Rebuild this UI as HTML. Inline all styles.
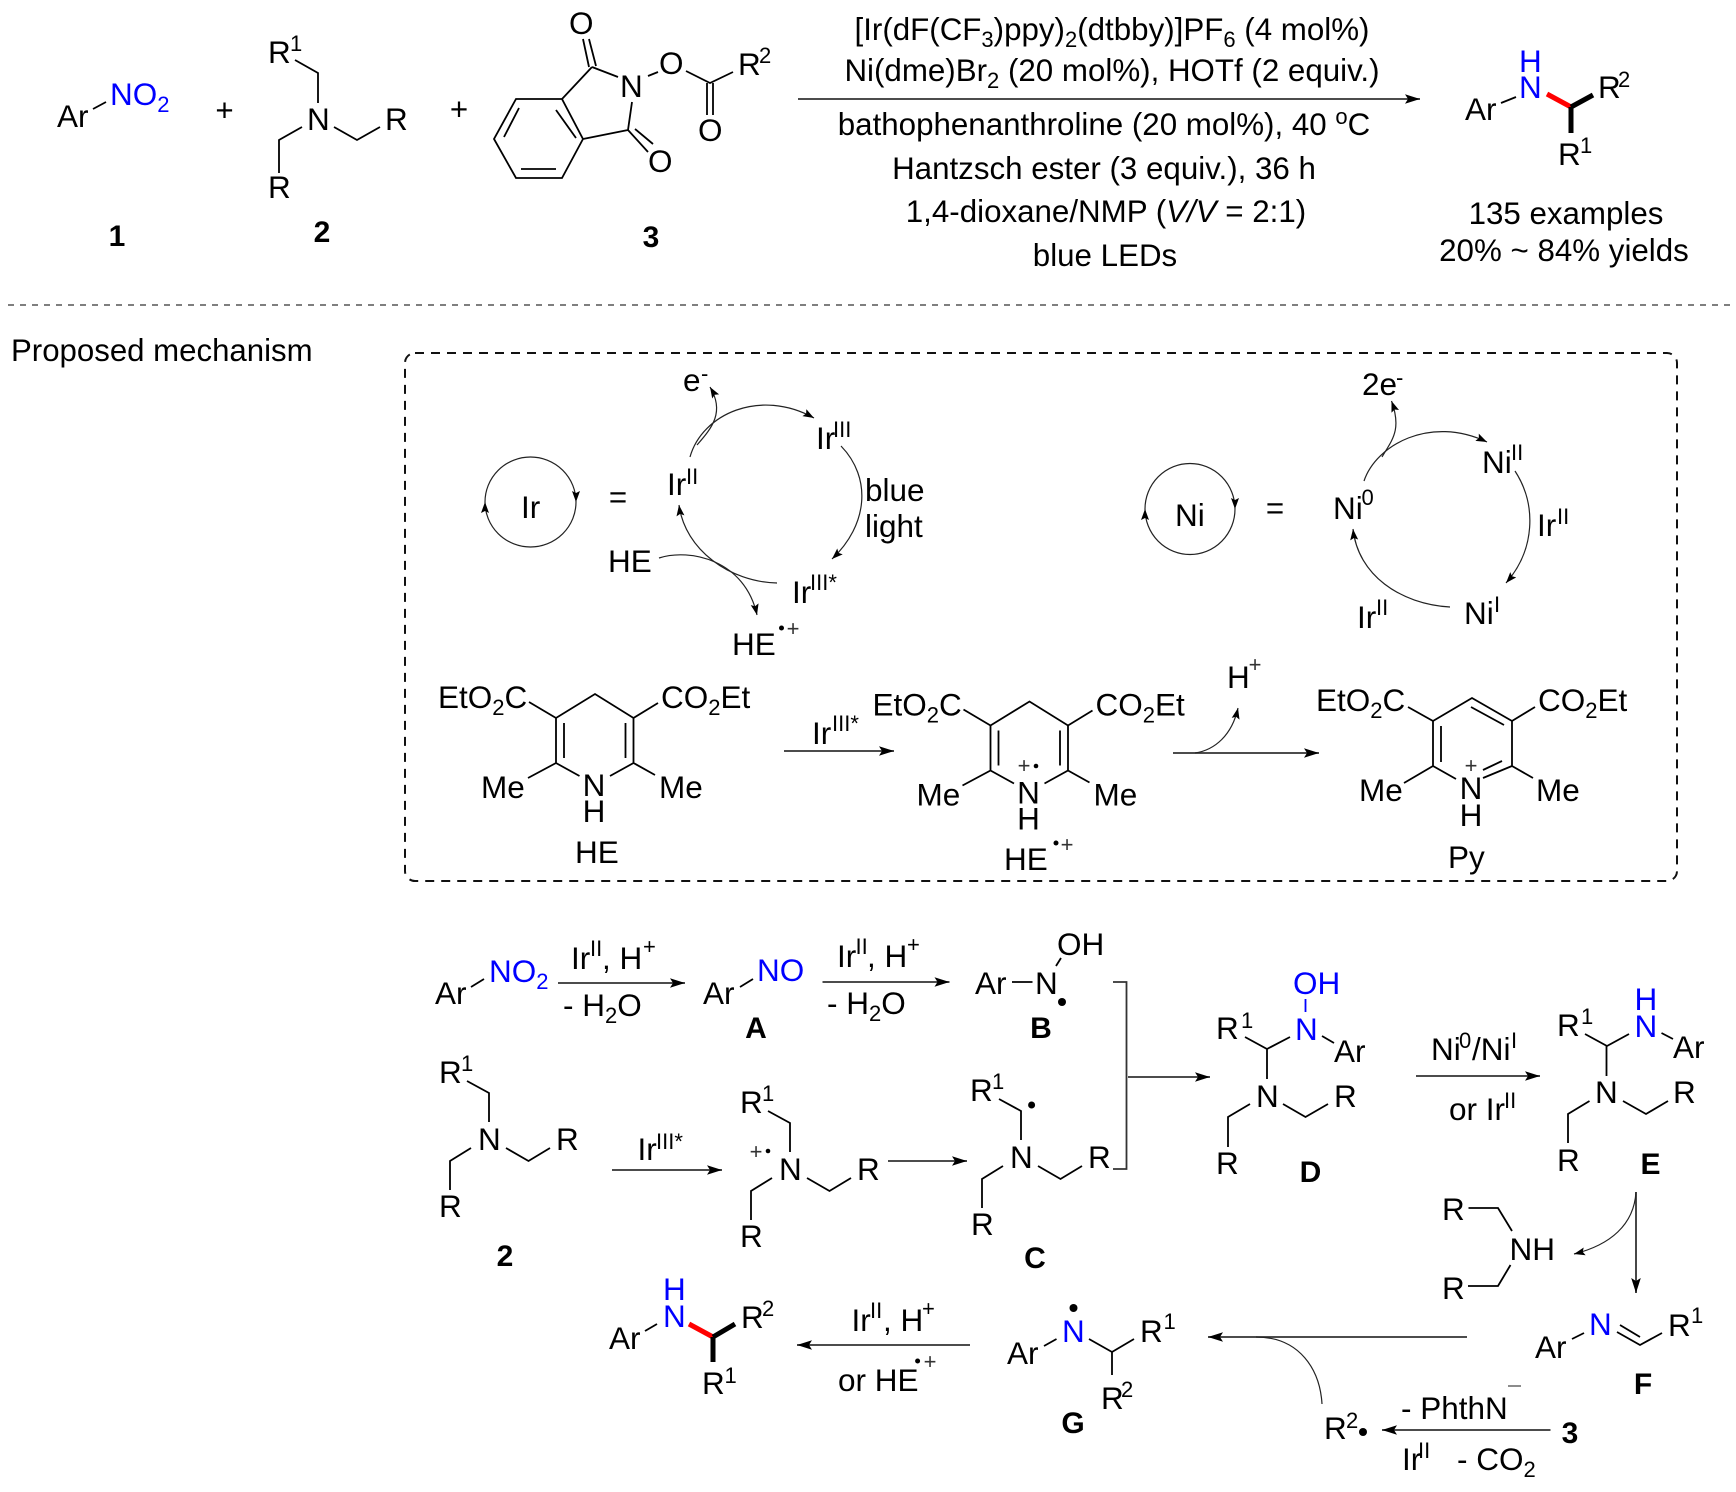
<!DOCTYPE html>
<html><head><meta charset="utf-8"><style>
html,body{margin:0;padding:0;background:#fff}
svg{display:block}
text{font-family:"Liberation Sans",Arial,sans-serif;font-size:31.5px;fill:#000}
text:not(.c):not(.b):not(.m):not(.p){transform:translate(-1px,0.8px)}
.s{font-size:22px}
.c{font-size:31.3px;text-anchor:middle}
.c .s{font-size:22px}
.b{font-size:30px;font-weight:bold;text-anchor:middle}
.u{fill:#0000ff}
.m{text-anchor:middle}
.p{font-size:22px;text-anchor:middle;fill:#333}
.l{fill:none;stroke:#000;stroke-width:1.8}
.a{fill:none;stroke:#333;stroke-width:1.8}
.k{fill:none;stroke:#222;stroke-width:1.2}
</style></head><body>
<svg width="1736" height="1492" viewBox="0 0 1736 1492" xmlns="http://www.w3.org/2000/svg">
<defs>
<marker id="h" markerUnits="userSpaceOnUse" markerWidth="16" markerHeight="12" refX="15" refY="6" orient="auto"><path d="M0 1.2L15 6L0 10.8L3 6Z" fill="#000"/></marker>
<marker id="g" markerUnits="userSpaceOnUse" markerWidth="12" markerHeight="10" refX="11" refY="5" orient="auto"><path d="M0 1L11 5L0 9L2 5Z" fill="#000"/></marker>
</defs>
<rect width="1736" height="1492" fill="#fff"/>

<!-- top: reactants -->
<text x="58" y="126">Ar</text><path class="l" d="M93 109L106 102"/>
<text x="111" y="104" class="u">NO<tspan dy="7" class="s u">2</tspan></text>
<text x="224.5" y="121" class="c">+</text>
<text x="117" y="246" class="b">1</text>

<text x="269" y="62">R</text><text x="291" y="50" class="s">1</text>
<path class="l" d="M295 60L318 73V103M302 127L279 140V173M334 127L357 140L380 127"/>
<text x="308" y="129">N</text><text x="386" y="129">R</text><text x="269" y="197">R</text>
<text x="322" y="242" class="b">2</text>
<text x="459" y="120" class="c">+</text>

<text x="570" y="33">O</text>
<path class="l" d="M583 39L589 67M589 39L596 66M592 67L618 77M592 67L562 99L583 139L628 130M632 102L628 130M628 130L648 152M635 129L653 144M562 99H516L494 139L516 178H562L583 139M556 110L576 138M519 108L504 137M521 169H556M648 76L658 72M686 71L710 83L733 72M707 83V115M713 83V115"/>
<text x="621" y="96">N</text><text x="660" y="73">O</text><text x="649" y="171">O</text>
<text x="739" y="74">R</text><text x="760" y="62" class="s">2</text><text x="699" y="140">O</text>
<text x="651" y="247" class="b">3</text>

<!-- conditions -->
<path class="a" d="M798 99H1420" marker-end="url(#h)"/>
<text x="1112" y="40" class="c">[Ir(dF(CF<tspan dy="7" class="s">3</tspan><tspan dy="-7">)ppy)</tspan><tspan dy="7" class="s">2</tspan><tspan dy="-7">(dtbby)]PF</tspan><tspan dy="7" class="s">6</tspan><tspan dy="-7"> (4 mol%)</tspan></text>
<text x="1112" y="81" class="c">Ni(dme)Br<tspan dy="7" class="s">2</tspan><tspan dy="-7"> (20 mol%), HOTf (2 equiv.)</tspan></text>
<text x="1104" y="135" class="c">bathophenanthroline (20 mol%), 40 <tspan dy="-11" class="s">o</tspan><tspan dy="11">C</tspan></text>
<text x="1104" y="179" class="c">Hantzsch ester (3 equiv.), 36 h</text>
<text x="1106" y="222" class="c">1,4-dioxane/NMP (<tspan font-style="italic">V/V</tspan> = 2:1)</text>
<text x="1105" y="266" class="c">blue LEDs</text>

<!-- product top -->
<text x="1466" y="119">Ar</text><path class="l" d="M1501 103L1516 97"/>
<text x="1520" y="71" class="u">H</text><text x="1520" y="97" class="u">N</text>
<path d="M1547 94L1571 107" stroke="#f00" stroke-width="5" fill="none"/>
<path d="M1571 107L1593 95M1571 107V133" stroke="#000" stroke-width="5" fill="none"/>
<text x="1599" y="97">R</text><text x="1619" y="86" class="s">2</text>
<text x="1559" y="164">R</text><text x="1581" y="152" class="s">1</text>
<text x="1566" y="224" class="c">135 examples</text>
<text x="1564" y="261" class="c">20% ~ 84% yields</text>

<path d="M8 305H1730" stroke="#555" stroke-width="1.5" stroke-dasharray="6 6" fill="none"/>
<text x="12" y="360" style="font-size:31.2px">Proposed mechanism</text>

<rect x="405" y="353" width="1272" height="528" rx="10" fill="none" stroke="#111" stroke-width="2" stroke-dasharray="9 7"/>

<!-- Ir cycle -->
<path class="k" d="M485 502A45.5 45 0 0 1 576 502" marker-end="url(#g)"/>
<path class="k" d="M576 502A45.5 45 0 0 1 485 502" marker-end="url(#g)"/>
<text x="522" y="517">Ir</text>
<text x="618" y="508" class="c">=</text>
<text x="684" y="390">e</text><text x="702" y="380" class="s">-</text>
<text x="668" y="494">Ir</text><text x="687" y="483" class="s">II</text>
<text x="817" y="448">Ir</text><text x="834" y="436" class="s">III</text>
<text x="793" y="602">Ir</text><text x="811" y="589" class="s">III*</text>
<text x="609" y="571">HE</text>
<text x="733" y="654">HE</text><circle cx="781.5" cy="628" r="2.5"/><text x="793" y="636" class="p">+</text>
<text x="866" y="500">blue</text><text x="866" y="536">light</text>
<path class="k" d="M690 457C702 414 760 388 814 418" marker-end="url(#g)"/>
<path class="k" d="M697 445C712 428 725 412 710 387" marker-end="url(#g)"/>
<path class="k" d="M841 446C872 478 868 525 832 559" marker-end="url(#g)"/>
<path class="k" d="M777 583C730 582 685 550 679 505" marker-end="url(#g)"/>
<path class="k" d="M659 558C690 548 745 560 757 615" marker-end="url(#g)"/>

<!-- Ni cycle -->
<path class="k" d="M1145 509A45 45.5 0 0 1 1235 509" marker-end="url(#g)"/>
<path class="k" d="M1235 509A45 45.5 0 0 1 1145 509" marker-end="url(#g)"/>
<text x="1176" y="525">Ni</text>
<text x="1275" y="519" class="c">=</text>
<text x="1363" y="394">2e</text><text x="1397" y="384" class="s">-</text>
<text x="1334" y="518">Ni</text><text x="1362.5" y="504" class="s">0</text>
<text x="1483" y="472">Ni</text><text x="1512" y="459" class="s">II</text>
<text x="1538" y="535">Ir</text><text x="1558" y="523" class="s">II</text>
<text x="1465" y="623">Ni</text><text x="1495" y="611" class="s">I</text>
<text x="1358" y="627">Ir</text><text x="1377" y="614" class="s">II</text>
<path class="k" d="M1364 481C1376 445 1430 415 1487 442" marker-end="url(#g)"/>
<path class="k" d="M1382 457C1392 440 1402 430 1391.5 401" marker-end="url(#g)"/>
<path class="k" d="M1515 471C1537 505 1535 550 1506 583" marker-end="url(#g)"/>
<path class="k" d="M1450 607C1400 604 1358 575 1353 529" marker-end="url(#g)"/>

<!-- HE -->
<text x="439" y="707">EtO<tspan dy="7" class="s">2</tspan><tspan dy="-7">C</tspan></text>
<text x="662" y="707">CO<tspan dy="7" class="s">2</tspan><tspan dy="-7">Et</tspan></text>
<path class="l" d="M529 702L556 718L595 694L633.5 718L658 703M556 718V763L579.5 776M633.5 718V763L610 776M564 723V758M625.5 723V758M556 763L528 778M633.5 763L655 775"/>
<text x="594" y="796" class="m">N</text><text x="594" y="822" class="m">H</text>
<text x="482" y="797">Me</text><text x="660" y="797">Me</text>
<text x="576" y="862">HE</text>
<path class="a" d="M784 751H894" marker-end="url(#h)"/>
<text x="813" y="743">Ir</text><text x="833" y="730" class="s">III*</text>

<!-- HE radical cation -->
<g transform="translate(434.5 7.5)">
<text x="439" y="707">EtO<tspan dy="7" class="s">2</tspan><tspan dy="-7">C</tspan></text>
<text x="662" y="707">CO<tspan dy="7" class="s">2</tspan><tspan dy="-7">Et</tspan></text>
<path class="l" d="M529 702L556 718L595 694L633.5 718L658 703M556 718V763L579.5 776M633.5 718V763L610 776M564 723V758M625.5 723V758M556 763L528 778M633.5 763L655 775"/>
<text x="594" y="796" class="m">N</text><text x="594" y="822" class="m">H</text>
<text x="483" y="797">Me</text><text x="660" y="797">Me</text>
</g>
<text x="1024" y="773" class="p">+</text><circle cx="1036" cy="766" r="2.3"/>
<text x="1005" y="869">HE</text><circle cx="1056" cy="843" r="2.5"/><text x="1067" y="852" class="p">+</text>

<text x="1228" y="687">H</text><text x="1255" y="672" class="p">+</text>
<path class="a" d="M1173 753H1319" marker-end="url(#h)"/>
<path class="k" d="M1195 753C1215 750 1232 735 1238 708" marker-end="url(#g)"/>

<!-- Py -->
<text x="1317" y="710">EtO<tspan dy="7" class="s">2</tspan><tspan dy="-7">C</tspan></text>
<text x="1539" y="710">CO<tspan dy="7" class="s">2</tspan><tspan dy="-7">Et</tspan></text>
<path class="l" d="M1408 707L1433 721L1472 698L1512 721L1535 707M1433 721V766L1456 779M1512 721V766L1483 778M1441 726V762M1471 707L1504 725M1483 770L1502 761M1433 766L1404 783M1512 766L1533 778"/>
<text x="1471" y="773" class="p">+</text>
<text x="1471" y="799" class="m">N</text><text x="1471" y="826" class="m">H</text>
<text x="1360" y="800">Me</text><text x="1537" y="800">Me</text>
<text x="1449" y="867">Py</text>

<!-- mechanism row 1 -->
<text x="436" y="1003">Ar</text><path class="l" d="M471 987L484 979"/>
<text x="490" y="981" class="u">NO<tspan dy="7" class="s u">2</tspan></text>
<path class="a" d="M558 983H685" marker-end="url(#h)"/>
<text x="572" y="968">Ir</text><text x="591" y="955" class="s">II</text><text x="603" y="968">, H</text><text x="644" y="953" class="s">+</text>
<text x="564" y="1015">- H<tspan dy="7" class="s">2</tspan><tspan dy="-7">O</tspan></text>
<text x="704" y="1003">Ar</text><path class="l" d="M740 987L753 979"/>
<text x="758" y="980" class="u">NO</text>
<text x="756" y="1038" class="b">A</text>
<path class="a" d="M822.5 982H949.5" marker-end="url(#h)"/>
<text x="838" y="966">Ir</text><text x="856.5" y="953" class="s">II</text><text x="868" y="966">, H</text><text x="908" y="951" class="s">+</text>
<text x="828" y="1013">- H<tspan dy="7" class="s">2</tspan><tspan dy="-7">O</tspan></text>
<text x="976" y="993">Ar</text><path class="l" d="M1012 982H1032.5M1061 958L1056 966"/>
<text x="1036" y="993">N</text><text x="1058" y="954">OH</text>
<circle cx="1062" cy="1002" r="4"/>
<text x="1041" y="1038" class="b">B</text>
<path class="a" d="M1113 982H1126.5V1169H1113"/>
<path class="a" d="M1128 1077H1210" marker-end="url(#h)"/>

<!-- amine 2 -->
<g>
<text x="440" y="1082">R</text><text x="462" y="1070" class="s">1</text>
<path class="l" d="M467 1081L489 1093V1122M471 1148L450 1161V1190M506 1148L528.5 1161L550 1148"/>
<text x="479" y="1149">N</text><text x="557" y="1149">R</text><text x="440" y="1216">R</text>
</g>
<text x="505" y="1266" class="b">2</text>
<path class="a" d="M612 1170H722" marker-end="url(#h)"/>
<text x="638.5" y="1159">Ir</text><text x="657" y="1148" class="s">III*</text>

<g transform="translate(301 30)">
<text x="440" y="1082">R</text><text x="462" y="1070" class="s">1</text>
<path class="l" d="M467 1081L489 1093V1122M471 1148L450 1161V1190M506 1148L528.5 1161L550 1148"/>
<text x="479" y="1149">N</text><text x="557" y="1149">R</text><text x="440" y="1216">R</text>
</g>
<text x="756" y="1159" class="p">+</text><circle cx="768" cy="1151" r="2.3"/>
<path class="a" d="M888 1161H967" marker-end="url(#h)"/>

<g transform="translate(532 18)">
<text x="439" y="1082">R</text><text x="461" y="1070" class="s">1</text>
<path class="l" d="M467 1081L489 1093V1122M471 1148L450 1161V1190M506 1148L528.5 1161L550 1148"/>
<text x="479" y="1149">N</text><text x="557" y="1149">R</text><text x="440" y="1216">R</text>
</g>
<circle cx="1031.6" cy="1105" r="3.5"/>
<text x="1035" y="1268" class="b">C</text>

<!-- D -->
<text x="1294" y="993" class="u">OH</text>
<path d="M1305.5 999V1012" stroke="#0000ff" stroke-width="1.8" fill="none"/>
<text x="1296" y="1039" class="u">N</text>
<text x="1217" y="1038">R</text><text x="1242" y="1027" class="s">1</text>
<path class="l" d="M1245 1037L1267 1049L1290 1037M1322 1036L1334 1043M1267 1049V1079M1250 1104L1228 1117V1147M1283 1104L1305.5 1117L1328 1104"/>
<text x="1335" y="1061">Ar</text><text x="1257" y="1106">N</text><text x="1335" y="1106">R</text><text x="1217" y="1173">R</text>
<text x="1310.5" y="1182" class="b">D</text>

<path class="a" d="M1416 1076H1540" marker-end="url(#h)"/>
<text x="1432" y="1059">Ni</text><text x="1460" y="1047" class="s">0</text><text x="1473" y="1059">/Ni</text><text x="1512" y="1047" class="s">I</text>
<text x="1450" y="1119">or Ir</text><text x="1505" y="1107" class="s">II</text>

<!-- E -->
<text x="1635.5" y="1009" class="u">H</text><text x="1635.5" y="1036" class="u">N</text>
<text x="1558" y="1035">R</text><text x="1582" y="1023" class="s">1</text>
<path class="l" d="M1585 1034L1607 1046L1629 1034M1661.5 1033L1673 1039M1606.5 1046V1076M1589.5 1101L1568 1114V1143M1623 1101L1646 1114L1668 1101"/>
<text x="1674" y="1057">Ar</text><text x="1596" y="1102">N</text><text x="1674" y="1102">R</text><text x="1558" y="1170">R</text>
<text x="1650.5" y="1174" class="b">E</text>

<path class="a" d="M1636 1192V1293" marker-end="url(#h)"/>
<path class="k" d="M1636 1192C1634 1225 1610 1245 1574 1254" marker-end="url(#g)"/>

<!-- amine byproduct -->
<text x="1443" y="1219">R</text>
<path class="l" d="M1468.5 1208H1498L1512 1231M1510.5 1265L1498 1286H1468"/>
<text x="1510.5" y="1259">NH</text><text x="1443" y="1298">R</text>

<!-- F -->
<text x="1536" y="1357">Ar</text><path class="l" d="M1572 1339L1584 1333"/>
<text x="1590" y="1334" class="u">N</text>
<path class="l" d="M1617 1332L1640 1345L1662 1333M1620 1325L1640 1337"/>
<text x="1669" y="1335">R</text><text x="1692" y="1322" class="s">1</text>
<text x="1643" y="1394" class="b">F</text>

<path class="a" d="M1467 1337H1208" marker-end="url(#h)"/>
<path class="k" d="M1322 1404C1320 1370 1300 1337 1256 1337"/>
<text x="1325" y="1438">R</text><text x="1347" y="1427" class="s">2</text><circle cx="1363" cy="1432" r="4"/>
<path class="a" d="M1550.5 1430H1382" marker-end="url(#h)"/>
<text x="1402" y="1418">- PhthN</text>
<path d="M1508 1386H1521" stroke="#666" stroke-width="1.5"/>
<text x="1570" y="1443" class="b">3</text>
<text x="1403" y="1469">Ir</text><text x="1419" y="1457" class="s">II</text>
<text x="1458" y="1469">- CO<tspan dy="7" class="s">2</tspan></text>

<!-- G -->
<text x="1008" y="1363">Ar</text><path class="l" d="M1044 1346L1056.5 1339"/>
<text x="1063" y="1341" class="u">N</text><circle cx="1073.5" cy="1308" r="4"/>
<path class="l" d="M1089 1339L1112 1352L1134 1339M1112 1352V1375"/>
<text x="1141" y="1341">R</text><text x="1164.5" y="1328" class="s">1</text>
<text x="1102" y="1408">R</text><text x="1122" y="1396" class="s">2</text>
<text x="1073" y="1433" class="b">G</text>

<path class="a" d="M970 1345H797" marker-end="url(#h)"/>
<text x="852.5" y="1330">Ir</text><text x="871" y="1317" class="s">II</text><text x="884" y="1330">, H</text><text x="923" y="1315" class="s">+</text>
<text x="839" y="1390">or HE</text><circle cx="917.6" cy="1361" r="2.5"/><text x="930" y="1369" class="p">+</text>

<!-- final product -->
<text x="610" y="1348">Ar</text><path class="l" d="M645 1331L657 1324"/>
<text x="664" y="1299" class="u">H</text><text x="664" y="1326" class="u">N</text>
<path d="M689 1324L713 1337" stroke="#f00" stroke-width="5" fill="none"/>
<path d="M713 1337L735 1324M713 1337V1362" stroke="#000" stroke-width="5" fill="none"/>
<text x="742" y="1327">R</text><text x="763" y="1315" class="s">2</text>
<text x="703" y="1393">R</text><text x="725.5" y="1382" class="s">1</text>
</svg>
</body></html>
